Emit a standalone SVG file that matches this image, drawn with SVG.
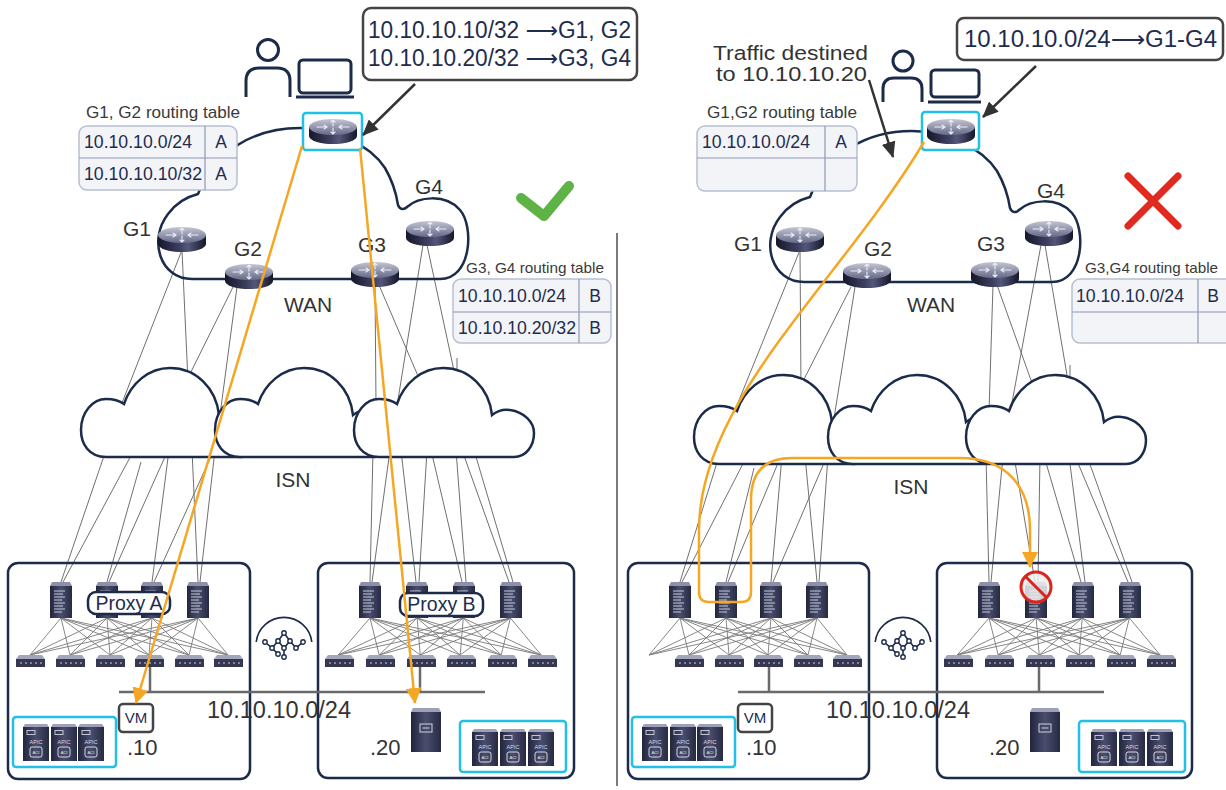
<svg xmlns="http://www.w3.org/2000/svg" width="1226" height="790" viewBox="0 0 1226 790">
<defs>
<style>
text{font-family:"Liberation Sans",Arial,"DejaVu Sans",sans-serif}
.nv{fill:#1e2c4f}
.dk{fill:#333}
.lnk{stroke:#707070;stroke-width:1;fill:none}
.cld{fill:#fff;stroke:#1c2b4a;stroke-width:2.5}
.wan{fill:none;stroke:#1c2b4a;stroke-width:2.5}
.tbl{fill:#f3f4f8;stroke:#b7bed0;stroke-width:1.5}
.dv{stroke:#8d97b2;stroke-width:1.2}
.cy{fill:#fff;stroke:#22bfe6;stroke-width:2.5}
.cyn{fill:none;stroke:#22bfe6;stroke-width:2.5}
.site{fill:none;stroke:#1c2b4a;stroke-width:2.5}
.tag{fill:#fff;stroke:#1c2b4a;stroke-width:2.5}
.org{fill:none;stroke:#f5a623;stroke-width:2.5}
.blk{stroke:#333;stroke-width:2.5;fill:none}
.icon{fill:none;stroke:#1c2b4a;stroke-width:3}
.bus{stroke:#6a6a6a;stroke-width:2.5}
.mesh{stroke:#7a7a7a;stroke-width:0.9;fill:none}
.vm{fill:#fff;stroke:#444;stroke-width:2.5}
.call{fill:#fff;stroke:#444;stroke-width:2.5}
</style>
<linearGradient id="gB" x1="0" x2="1" y1="0" y2="0">
<stop offset="0" stop-color="#15172a"/><stop offset="0.45" stop-color="#3d3f60"/><stop offset="0.62" stop-color="#55577a"/><stop offset="1" stop-color="#15172a"/>
</linearGradient>
<linearGradient id="gT" x1="0" x2="0" y1="0" y2="1">
<stop offset="0" stop-color="#c3c5d4"/><stop offset="1" stop-color="#666988"/>
</linearGradient>
<linearGradient id="gD" x1="0" x2="1" y1="0" y2="0">
<stop offset="0" stop-color="#22253d"/><stop offset="0.5" stop-color="#4a4e6e"/><stop offset="1" stop-color="#262a42"/>
</linearGradient>
<marker id="ah" viewBox="0 0 16 14" refX="15" refY="7" markerWidth="16" markerHeight="14" orient="auto" markerUnits="userSpaceOnUse"><path d="M0,0L16,7L0,14Z" fill="#333"/></marker>
<marker id="ao" viewBox="0 0 16 16" refX="15" refY="8" markerWidth="16" markerHeight="16" orient="auto" markerUnits="userSpaceOnUse"><path d="M0,0L16,8L0,16Z" fill="#f5a623"/></marker>
<!-- router -->
<g id="rt">
<path d="M-24,-3V6A24,8 0 0 0 24,6V-3Z" fill="url(#gB)"/>
<ellipse cy="-3" rx="24" ry="8" fill="url(#gT)"/>
<path d="M-16,-3H-6M-9,-5L-6,-3L-9,-1M16,-3H6M9,-5L6,-3L9,-1M0,-4V-10M-2,-8L0,-10L2,-8M0,-2V4M-2,2L0,4L2,2" stroke="#eceef5" stroke-width="1.1" fill="none" stroke-linecap="round"/>
</g>
<!-- spine switch -->
<g id="sp">
<polygon points="2,0 20,0 22,4 0,4" fill="#8d90a8"/>
<rect y="4" width="22" height="32" fill="url(#gD)"/>
<path d="M4,9H15M4,12H13M4,15H15M4,18H12M4,21H15M4,24H13M4,27H15M4,30H12" stroke="#c5c8d8" stroke-width="1"/>
</g>
<!-- leaf switch -->
<g id="lf">
<polygon points="3,0 26,0 29,4 0,4" fill="#a3a6bb"/>
<rect y="4" width="29" height="8" fill="#34374f"/>
<path d="M4,8h2M9,8h2M14,8h2M19,8h2M24,8h2" stroke="#d0d3e0" stroke-width="1.2"/>
</g>
<!-- controller -->
<g id="ap">
<polygon points="2,0 24,0 26,3 0,3" fill="#9da0b6"/>
<rect y="3" width="26" height="34" fill="url(#gD)"/>
<rect x="4" y="6.5" width="8" height="4" fill="none" stroke="#cfd2e0" stroke-width="0.9"/>
<text x="13" y="20" font-size="5.5" fill="#d6d8e4" text-anchor="middle">APIC</text>
<rect x="7" y="23" width="12" height="10" rx="2" fill="none" stroke="#e6e8f0" stroke-width="0.9"/>
<text x="13" y="30" font-size="4.2" fill="#e6e8f0" text-anchor="middle">ACI</text>
</g>
<!-- server -->
<g id="sv">
<polygon points="2,0 28,0 30,4 0,4" fill="#9da0b6"/>
<rect y="4" width="30" height="40" fill="url(#gD)"/>
<rect x="9" y="16" width="12" height="8" fill="none" stroke="#cfd2e0" stroke-width="1"/>
<path d="M11.5,20H18.5" stroke="#cfd2e0" stroke-width="1"/>
</g>
<!-- fabric icon -->
<g id="fab" fill="none" stroke="#1c2b4a" stroke-width="1.6">
<path d="M-27.8,-3A28,28 0 0 1 27.8,-3"/>
<path d="M-19,-3L-12,3L-6,-4L0,-12L6,-4L12,3L19,-3M-6,-4L0,3L6,-4M0,3V12M-12,3L-6,9"/>
<g fill="#fff" stroke-width="1.4">
<circle cx="-19" cy="-3" r="2.2"/><circle cx="-12" cy="3" r="2.2"/><circle cx="-6" cy="-4" r="2.2"/><circle cx="0" cy="-12" r="2.2"/><circle cx="6" cy="-4" r="2.2"/><circle cx="12" cy="3" r="2.2"/><circle cx="19" cy="-3" r="2.2"/><circle cx="0" cy="3" r="2.2"/><circle cx="0" cy="12" r="2.2"/><circle cx="-6" cy="9" r="2.2"/>
</g>
</g>
<path id="cloud" d="M25,89C8,89 0,76 0,62C0,44 12,31 25,31C33,31 39,33 43,36C50,15 68,0 89,0C115,0 135,20 138,47C143,43 150,41 156,42C170,44 180,54 180,65C180,78 172,89 160,89Z"/>
<path id="wanc" d="M192,279C160,279 148,240 168,214C176,203 186,197 198,194C215,150 255,128 300,128C335,128 370,145 385,168C392,180 396,192 398,205C400,210 404,210 407,207C418,197 445,193 460,210C474,226 472,279 440,279Z"/>
<path id="mesh" d="M0,618L-31,655M0,618L9,655M0,618L49,655M0,618L88,655M0,618L128,655M0,618L167,655M46,618L-31,655M46,618L9,655M46,618L49,655M46,618L88,655M46,618L128,655M46,618L167,655M91,618L-31,655M91,618L9,655M91,618L49,655M91,618L88,655M91,618L128,655M91,618L167,655M137,618L-31,655M137,618L9,655M137,618L49,655M137,618L88,655M137,618L128,655M137,618L167,655"/>
</defs>

<rect width="1226" height="790" fill="#fff"/>
<line x1="617" y1="233" x2="617" y2="786" stroke="#7a7a7a" stroke-width="2"/>

<!-- gray links: WAN edge to ISN, ISN to spines -->
<g id="links" class="lnk">
<path d="M182,250L120,408M182,250L188,382M233,287L186,382M237,287L218,430M375,285L376,405M379,285L424,390M423,245L396,412M427,245L456,380M457,358L457,378"/>
<path d="M800,250L733,415M800,250L801,389M851,287L799,389M855,287L831,437M993,285L989,412M997,285L1037,397M1041,245L1009,419M1045,245L1069,387M1070,365L1070,385"/>
<path d="M106,450L61,582M134,450L63,582M141,462L107,582M168,450L109,582M169,450L152,582M214,450L154,582M192,450L198,582M215,450L200,582M373,450L370,582M390,450L372,582M401,450L416,582M427,450L419,582M431,450L462,582M456,450L466,582M462,450L509,582M474,450L513,582"/>
<path d="M719,456L680,582M747,456L682,582M754,468L726,582M781,456L728,582M782,456L771,582M827,456L773,582M805,456L817,582M828,456L819,582M986,456L989,582M1003,456L991,582M1014,456L1035,582M1040,456L1038,582M1044,456L1081,582M1069,456L1085,582M1075,456L1128,582M1087,456L1132,582"/>
</g>

<!-- clouds -->
<g id="wan-left"><use href="#wanc" class="wan"/></g>
<g id="wan-right"><use href="#wanc" class="wan" transform="translate(612,3)"/></g>
<g id="isn-left">
<use href="#cloud" class="cld" transform="translate(81,368)"/>
<use href="#cloud" class="cld" transform="translate(215,368)"/>
<use href="#cloud" class="cld" transform="translate(354,368)"/>
</g>
<g id="isn-right">
<use href="#cloud" class="cld" transform="translate(694,375)"/>
<use href="#cloud" class="cld" transform="translate(828,375)"/>
<use href="#cloud" class="cld" transform="translate(966,375)"/>
</g>

<!-- labels -->
<g font-size="21" class="dk" text-anchor="middle" fill="#333">
<text x="308" y="312">WAN</text>
<text x="931" y="312">WAN</text>
<text x="293" y="487">ISN</text>
<text x="911" y="494">ISN</text>
<text x="137" y="236">G1</text>
<text x="248" y="256">G2</text>
<text x="372" y="252">G3</text>
<text x="429" y="194">G4</text>
<text x="748" y="251">G1</text>
<text x="878" y="256">G2</text>
<text x="991" y="251">G3</text>
<text x="1051" y="198">G4</text>
</g>

<!-- gateways -->
<g id="g1-left"><use href="#rt" transform="translate(182,238)"/></g>
<g id="g2-left"><use href="#rt" transform="translate(249,275)"/></g>
<g id="g3-left"><use href="#rt" transform="translate(375,273)"/></g>
<g id="g4-left"><use href="#rt" transform="translate(430,232)"/></g>
<g id="g1-right"><use href="#rt" transform="translate(800,238)"/></g>
<g id="g2-right"><use href="#rt" transform="translate(867,274)"/></g>
<g id="g3-right"><use href="#rt" transform="translate(995,273)"/></g>
<g id="g4-right"><use href="#rt" transform="translate(1049,232)"/></g>

<!-- routing tables -->
<g id="tbl-g12-left">
<text x="86" y="118" font-size="17" fill="#3a3a3a" textLength="154" lengthAdjust="spacingAndGlyphs">G1, G2 routing table</text>
<rect class="tbl" x="79" y="126" width="158" height="64" rx="8"/>
<line class="dv" x1="205" y1="126" x2="205" y2="190"/><line class="dv" x1="79" y1="158" x2="237" y2="158"/>
<text x="84" y="148" font-size="17.5" class="nv" textLength="108" lengthAdjust="spacingAndGlyphs">10.10.10.0/24</text>
<text x="221" y="148" font-size="17.5" class="nv" text-anchor="middle">A</text>
<text x="84" y="180" font-size="17.5" class="nv" textLength="118" lengthAdjust="spacingAndGlyphs">10.10.10.10/32</text>
<text x="221" y="180" font-size="17.5" class="nv" text-anchor="middle">A</text>
</g>
<g id="tbl-g34-left">
<text x="466" y="273" font-size="15" fill="#3a3a3a" textLength="138" lengthAdjust="spacingAndGlyphs">G3, G4 routing table</text>
<rect class="tbl" x="453" y="279" width="158" height="64" rx="8"/>
<line class="dv" x1="579" y1="279" x2="579" y2="343"/><line class="dv" x1="453" y1="312" x2="611" y2="312"/>
<text x="458" y="302" font-size="17.5" class="nv" textLength="108" lengthAdjust="spacingAndGlyphs">10.10.10.0/24</text>
<text x="595" y="302" font-size="17.5" class="nv" text-anchor="middle">B</text>
<text x="458" y="334" font-size="17.5" class="nv" textLength="118" lengthAdjust="spacingAndGlyphs">10.10.10.20/32</text>
<text x="595" y="334" font-size="17.5" class="nv" text-anchor="middle">B</text>
</g>
<g id="tbl-g12-right">
<text x="707" y="118" font-size="17" fill="#3a3a3a" textLength="150" lengthAdjust="spacingAndGlyphs">G1,G2 routing table</text>
<rect class="tbl" x="697" y="126" width="160" height="65" rx="8"/>
<line class="dv" x1="825" y1="126" x2="825" y2="191"/><line class="dv" x1="697" y1="158" x2="857" y2="158"/>
<text x="702" y="148" font-size="17.5" class="nv" textLength="108" lengthAdjust="spacingAndGlyphs">10.10.10.0/24</text>
<text x="841" y="148" font-size="17.5" class="nv" text-anchor="middle">A</text>
</g>
<g id="tbl-g34-right">
<text x="1085" y="273" font-size="15" fill="#3a3a3a" textLength="133" lengthAdjust="spacingAndGlyphs">G3,G4 routing table</text>
<rect class="tbl" x="1072" y="279" width="172" height="64" rx="8"/>
<line class="dv" x1="1198" y1="279" x2="1198" y2="343"/><line class="dv" x1="1072" y1="312" x2="1226" y2="312"/>
<text x="1076" y="302" font-size="17.5" class="nv" textLength="108" lengthAdjust="spacingAndGlyphs">10.10.10.0/24</text>
<text x="1213" y="302" font-size="17.5" class="nv" text-anchor="middle">B</text>
</g>

<!-- users and edge routers -->
<g id="user-left" class="icon">
<circle cx="268" cy="50" r="10.5"/>
<path d="M246,97V81Q246,68 259,68H277Q290,68 290,81V97"/>
<rect x="299" y="60" width="52" height="33" rx="4"/>
<line x1="296" y1="97" x2="354" y2="97"/>
</g>
<g id="user-right" class="icon">
<circle cx="903" cy="61" r="10"/>
<path d="M883,102V89Q883,78 894,78H911Q922,78 922,89V102"/>
<rect x="931" y="70" width="48" height="27" rx="4"/>
<line x1="928" y1="102" x2="981" y2="102"/>
</g>
<g id="edge-left"><rect class="cy" x="303" y="113" width="59" height="37" rx="3"/><use href="#rt" transform="translate(333,130)"/></g>
<g id="edge-right"><rect class="cy" x="922" y="112" width="57" height="38" rx="3"/><use href="#rt" transform="translate(951,130)"/></g>

<!-- callouts -->
<g id="callout-left">
<rect class="call" x="363" y="8" width="274" height="72" rx="8"/>
<text x="368" y="38" font-size="23" class="nv" textLength="263" lengthAdjust="spacingAndGlyphs">10.10.10.10/32 ⟶G1, G2</text>
<text x="368" y="66" font-size="23" class="nv" textLength="263" lengthAdjust="spacingAndGlyphs">10.10.10.20/32 ⟶G3, G4</text>
</g>
<g id="callout-right">
<rect class="call" x="957" y="18" width="266" height="42" rx="7"/>
<text x="964" y="47" font-size="23" class="nv" textLength="253" lengthAdjust="spacingAndGlyphs">10.10.10.0/24⟶G1-G4</text>
</g>
<g id="note-right">
<text x="713" y="60" font-size="20.5" fill="#333" textLength="155" lengthAdjust="spacingAndGlyphs">Traffic destined</text>
<text x="716" y="81" font-size="20.5" fill="#333" textLength="151" lengthAdjust="spacingAndGlyphs">to 10.10.10.20</text>
</g>
<g id="pointers" class="blk">
<line x1="415" y1="84" x2="363" y2="135" marker-end="url(#ah)"/>
<line x1="1036" y1="66" x2="983" y2="117" marker-end="url(#ah)"/>
<line x1="869" y1="80" x2="893" y2="157" marker-end="url(#ah)"/>
</g>

<!-- result marks -->
<path id="ok" d="M521,198L544,216L569,186" fill="none" stroke="#5db346" stroke-width="10" stroke-linecap="round" stroke-linejoin="round"/>
<path id="fail" d="M1128,176L1178,226M1178,176L1128,226" stroke="#e02a20" stroke-width="7" stroke-linecap="round"/>

<!-- pod A (left) -->
<g id="podA-left">
<rect class="site" x="8" y="563" width="242" height="216" rx="10"/>
<use href="#mesh" class="mesh" transform="translate(61,0)"/>
<use href="#sp" x="50" y="582"/><use href="#sp" x="96" y="582"/><use href="#sp" x="141" y="582"/><use href="#sp" x="187" y="582"/>
<use href="#lf" x="16" y="655"/><use href="#lf" x="56" y="655"/><use href="#lf" x="96" y="655"/><use href="#lf" x="135" y="655"/><use href="#lf" x="175" y="655"/><use href="#lf" x="214" y="655"/>
<rect class="tag" x="88" y="592" width="82" height="22" rx="8"/>
<text x="129" y="610" font-size="19.5" class="nv" text-anchor="middle">Proxy A</text>
<rect class="cyn" x="13" y="717" width="103" height="50" rx="3"/>
<use href="#ap" x="23" y="724"/><use href="#ap" x="51" y="724"/><use href="#ap" x="78" y="724"/>
</g>
<g id="podB-left">
<rect class="site" x="318" y="563" width="256" height="215" rx="10"/>
<use href="#mesh" class="mesh" transform="translate(370,0) scale(1.025,1)"/>
<use href="#sp" x="359" y="582"/><use href="#sp" x="406" y="582"/><use href="#sp" x="453" y="582"/><use href="#sp" x="500" y="582"/>
<use href="#lf" x="325" y="655"/><use href="#lf" x="366" y="655"/><use href="#lf" x="407" y="655"/><use href="#lf" x="447" y="655"/><use href="#lf" x="488" y="655"/><use href="#lf" x="528" y="655"/>
<rect class="tag" x="400" y="593" width="83" height="23" rx="8"/>
<text x="441.5" y="611" font-size="19.5" class="nv" text-anchor="middle">Proxy B</text>
<rect class="cyn" x="460" y="721" width="106" height="51" rx="3"/>
<use href="#ap" x="472" y="729"/><use href="#ap" x="500" y="729"/><use href="#ap" x="528" y="729"/>
</g>
<g id="hosts-left">
<path class="bus" d="M150,667V692M420,667V692M119,692H485"/>
<rect class="vm" x="119" y="704" width="34" height="28" rx="4"/>
<text x="136" y="723" font-size="15" class="nv" text-anchor="middle">VM</text>
<use href="#sv" x="411" y="708"/>
<text x="127" y="755" font-size="22" fill="#333">.10</text>
<text x="370" y="755" font-size="22" fill="#333">.20</text>
<text x="207" y="718" font-size="23" fill="#333" textLength="144" lengthAdjust="spacingAndGlyphs">10.10.10.0/24</text>
</g>
<use id="fabric-left" href="#fab" transform="translate(284,645)"/>

<!-- pods (right) -->
<g id="podA-right">
<rect class="site" x="628" y="563" width="241" height="216" rx="10"/>
<use href="#mesh" class="mesh" transform="translate(680,0)"/>
<use href="#sp" x="669" y="582"/><use href="#sp" x="715" y="582"/><use href="#sp" x="760" y="582"/><use href="#sp" x="806" y="582"/>
<use href="#lf" x="675" y="655"/><use href="#lf" x="715" y="655"/><use href="#lf" x="754" y="655"/><use href="#lf" x="794" y="655"/><use href="#lf" x="833" y="655"/>
<rect class="cyn" x="632" y="717" width="103" height="50" rx="3"/>
<use href="#ap" x="642" y="724"/><use href="#ap" x="670" y="724"/><use href="#ap" x="697" y="724"/>
</g>
<g id="podB-right">
<rect class="site" x="937" y="563" width="255" height="215" rx="10"/>
<use href="#mesh" class="mesh" transform="translate(989,0) scale(1.025,1)"/>
<use href="#sp" x="978" y="582"/><use href="#sp" x="1025" y="582"/><use href="#sp" x="1072" y="582"/><use href="#sp" x="1119" y="582"/>
<use href="#lf" x="944" y="655"/><use href="#lf" x="985" y="655"/><use href="#lf" x="1026" y="655"/><use href="#lf" x="1066" y="655"/><use href="#lf" x="1107" y="655"/><use href="#lf" x="1147" y="655"/>
<rect class="cyn" x="1079" y="721" width="106" height="51" rx="3"/>
<use href="#ap" x="1091" y="729"/><use href="#ap" x="1119" y="729"/><use href="#ap" x="1147" y="729"/>
</g>
<g id="hosts-right">
<path class="bus" d="M769,667V692M1039,667V692M738,692H1104"/>
<rect class="vm" x="738" y="704" width="34" height="28" rx="4"/>
<text x="755" y="723" font-size="15" class="nv" text-anchor="middle">VM</text>
<use href="#sv" x="1030" y="708"/>
<text x="746" y="755" font-size="22" fill="#333">.10</text>
<text x="989" y="755" font-size="22" fill="#333">.20</text>
<text x="826" y="718" font-size="23" fill="#333" textLength="144" lengthAdjust="spacingAndGlyphs">10.10.10.0/24</text>
</g>
<use id="fabric-right" href="#fab" transform="translate(903,645)"/>

<!-- traffic paths -->
<g id="flows" class="org">
<line x1="302" y1="146" x2="136" y2="703" marker-end="url(#ao)"/>
<line x1="360" y1="148" x2="415" y2="703" marker-end="url(#ao)"/>
<path d="M924,142C840,282 699,400 699,530L699,592Q699,602 709,602L741,602Q751,602 751,592L751,500Q751,458 792,458L960,458C1005,458 1030,485 1030,530L1030,567" marker-end="url(#ao)"/>
</g>

<!-- blocked marker -->
<g id="blocked">
<circle cx="1036" cy="587" r="15" fill="#eeeeee" fill-opacity="0.85" stroke="#d9251d" stroke-width="3"/>
<line x1="1026" y1="577" x2="1046" y2="597" stroke="#d9251d" stroke-width="3"/>
</g>
</svg>
